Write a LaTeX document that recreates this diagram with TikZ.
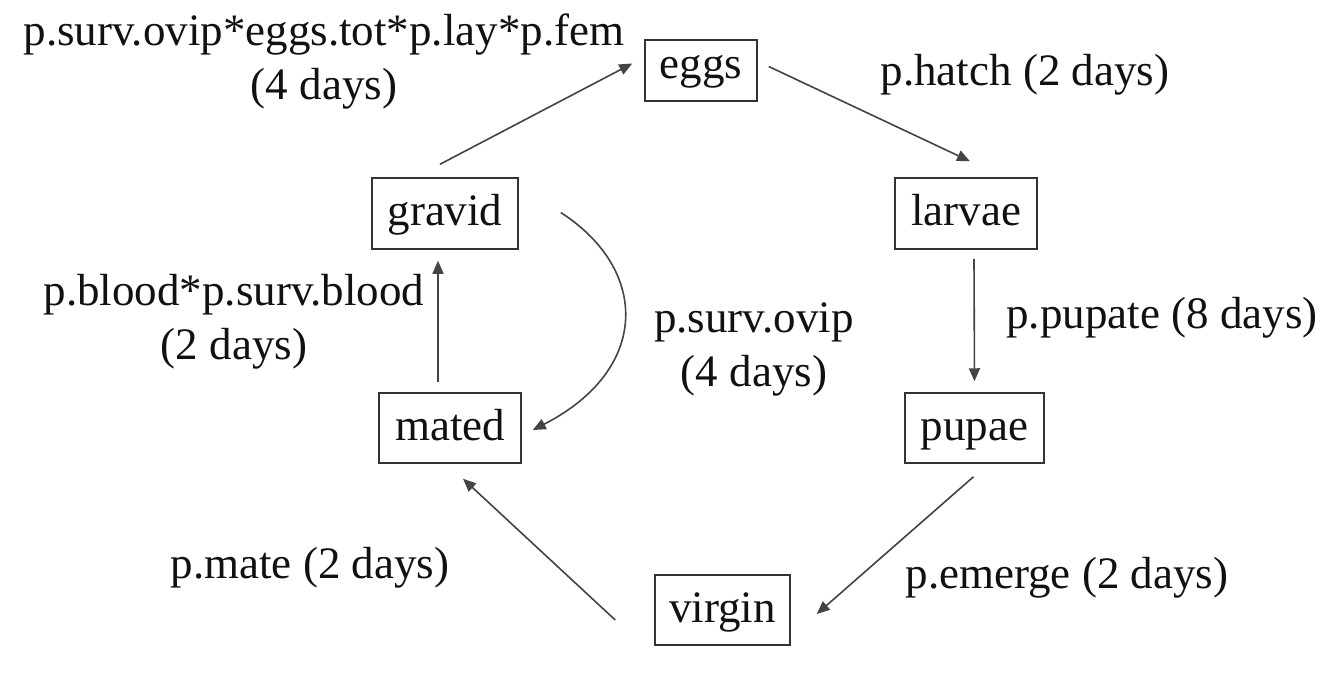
\documentclass[tikz,border=0pt]{standalone}
\usepackage{fontspec}
\setmainfont{Liberation Serif}
\usetikzlibrary{arrows.meta,calc}
\definecolor{boxline}{HTML}{333333}
\definecolor{arrline}{HTML}{444444}
\definecolor{txt}{HTML}{111111}
\begin{document}
\begin{tikzpicture}[x=0.5pt,y=-0.5pt,
  every node/.style={text=txt,font=\fontsize{22.5}{27}\selectfont},
  stage/.style={draw=boxline,line width=0.75pt,inner sep=0pt,minimum height=35.5pt,text height=16pt,text depth=4pt},
  lbl/.style={align=center,inner sep=0pt},
  flow/.style={draw=arrline,line width=0.8pt,-{Triangle[length=6.5pt,width=5.5pt]}}]
\useasboundingbox[fill=white] (0,0) rectangle (1341,677);
% stages
\node[stage,minimum width=56pt,minimum height=30.5pt,text height=12.5pt,text depth=4.5pt] (eggs) at (701,70.5) {eggs};
\node[stage,minimum width=73pt] (gravid) at (445,213.5) {gravid};
\node[stage,minimum width=71pt] (larvae) at (966,213.5) {larvae};
\node[stage,minimum width=71pt,minimum height=35pt] (mated) at (450,428) {mated};
\node[stage,minimum width=69.5pt,minimum height=35pt] (pupae) at (974.5,428) {pupae};
\node[stage,minimum width=67.5pt,minimum height=35pt] (virgin) at (722.5,610) {virgin};
% labels
\node[lbl] (lay) at (324,62) {p.surv.ovip*eggs.tot*p.lay*p.fem\\(4 days)};
\node[lbl] (hatch) at (1025,75) {p.hatch (2 days)};
\node[lbl] (blood) at (234,322) {p.blood*p.surv.blood\\(2 days)};
\node[lbl] (ovip) at (754,349) {p.surv.ovip\\(4 days)};
\node[lbl] (pupate) at (1162,318) {p.pupate (8 days)};
\node[lbl] (mate) at (310,568) {p.mate (2 days)};
\node[lbl] (emerge) at (1067,578) {p.emerge (2 days)};
% connectors
\draw[flow] ($(gravid.north)+(-5,-13)$) -- ($(eggs.west)+(-12,-7)$);
\draw[flow] ($(eggs.east)+(11,-4)$) -- ($(larvae.north)+(4,-16)$);
\draw[flow] ($(larvae.south)+(8,9)$) -- ($(pupae.north)+(0,-11)$);
\draw[flow] ($(pupae.south)+(-1,13)$) -- ($(virgin.east)+(26,4)$);
\draw[flow] ($(virgin.west)+(-39,10)$) -- ($(mated.south)+(13,15)$);
\draw[flow] ($(mated.north)+(-12,-10)$) -- ($(gravid.south)+(-7,11)$);
\draw[flow] ($(gravid.east)+(42,-1)$) .. controls (650,270) and (650,370) .. ($(mated.east)+(11,2)$);
\end{tikzpicture}
\end{document}
